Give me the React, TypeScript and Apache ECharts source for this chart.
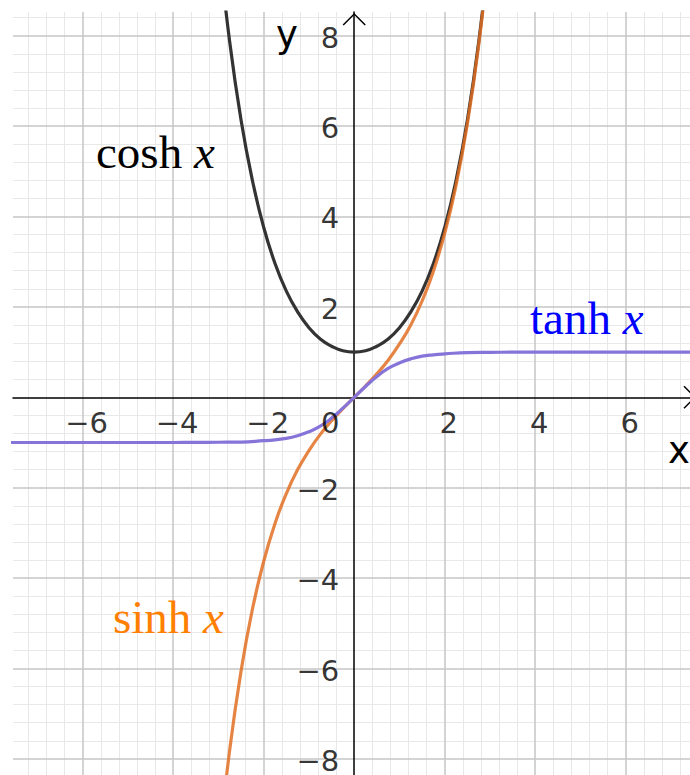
import React, { useEffect, useRef } from "react";
import * as echarts from "echarts";

// Visible window of the plane
const X_MIN = -7.54;
const X_MAX = 7.42;
const Y_MIN = -8.356;
const Y_MAX = 8.524;

// Tick labels on each axis
const xTickLabels = [-6, -4, -2, 2, 4, 6];
const yTickLabels = [-8, -6, -4, -2, 2, 4, 6, 8];

// Sample abscissas for cosh and sinh
const hypX = [
  -3, -2.75, -2.5, -2.25, -2, -1.75, -1.5, -1.25, -1, -0.75, -0.5, -0.25, 0,
  0.25, 0.5, 0.75, 1, 1.25, 1.5, 1.75, 2, 2.25, 2.5, 2.75, 3,
];
const coshValues = [
  10.07, 7.85, 6.13, 4.8, 3.76, 2.96, 2.35, 1.89, 1.54, 1.29, 1.13, 1.03, 1,
  1.03, 1.13, 1.29, 1.54, 1.89, 2.35, 2.96, 3.76, 4.8, 6.13, 7.85, 10.07,
];
const sinhValues = [
  -10.02, -7.79, -6.05, -4.69, -3.63, -2.79, -2.13, -1.6, -1.18, -0.82, -0.52,
  -0.25, 0, 0.25, 0.52, 0.82, 1.18, 1.6, 2.13, 2.79, 3.63, 4.69, 6.05, 7.79,
  10.02,
];

// Sample abscissas and values for tanh
const tanhX = [
  -7.6, -6, -5, -4, -3.5, -3, -2.5, -2, -1.75, -1.5, -1.25, -1, -0.75, -0.5,
  -0.25, 0, 0.25, 0.5, 0.75, 1, 1.25, 1.5, 1.75, 2, 2.5, 3, 3.5, 4, 5, 6, 7.6,
];
const tanhValues = [
  -1, -1, -1, -1, -0.998, -0.995, -0.99, -0.96, -0.94, -0.91, -0.85, -0.76,
  -0.64, -0.46, -0.24, 0, 0.24, 0.46, 0.64, 0.76, 0.85, 0.91, 0.94, 0.96,
  0.99, 0.995, 0.998, 1, 1, 1, 1,
];

const COSH_COLOR = "#333333";
const SINH_COLOR = "#E26E22";
const TANH_COLOR = "#8674D9";

const MINOR_STEP = 0.4;
const MINOR_PER_MAJOR = 5;

function gridValues(min: number, max: number) {
  const major: number[] = [];
  const minor: number[] = [];
  for (
    let i = Math.ceil(min / MINOR_STEP);
    i <= Math.floor(max / MINOR_STEP);
    i++
  ) {
    if (i === 0) continue;
    const v = +(i * MINOR_STEP).toFixed(2);
    if (i % MINOR_PER_MAJOR === 0) major.push(v);
    else minor.push(v);
  }
  return { major, minor };
}

const minus = (v: number) => String(v).replace("-", "\u2212");

const TICK_FONT = "DejaVu Sans";
const LABEL_FONT = "Liberation Serif";

export default function App() {
  const ref = useRef<HTMLDivElement>(null);

  useEffect(() => {
    if (!ref.current) return;
    const chart = echarts.init(ref.current, null, { renderer: "svg" });

    const gx = gridValues(X_MIN, X_MAX);
    const gy = gridValues(Y_MIN, Y_MAX);

    const gridSeries = (
      xs: number[],
      ys: number[],
      color: string,
      width: number
    ) => ({
      type: "line",
      data: [],
      silent: true,
      z: 1,
      markLine: {
        silent: true,
        animation: false,
        z: 1,
        symbol: ["none", "none"],
        label: { show: false },
        emphasis: { disabled: true },
        lineStyle: { color, width, type: "solid" },
        data: [
          ...xs.map((v) => ({ xAxis: v })),
          ...ys.map((v) => ({ yAxis: v })),
        ],
      },
    });

    const curve = (
      name: string,
      xs: number[],
      ys: number[],
      color: string,
      opacity: number,
      z: number
    ) => ({
      name,
      type: "line",
      data: xs.map((x, i) => [x, ys[i]]),
      showSymbol: false,
      smooth: 0.5,
      clip: true,
      z,
      silent: true,
      lineStyle: { color, width: 3.2, opacity },
    });

    const tickText = {
      fontFamily: TICK_FONT,
      fontSize: 29,
      lineHeight: 20,
      color: "#000000",
      textBorderWidth: 0,
      textBorderColor: "transparent",
    };

    // Numbers along the axes, placed at their values on the axis lines
    const tickSeries = (
      data: number[][],
      align: string,
      offset: number[],
      fmt: (p: any) => string
    ) => ({
      type: "scatter",
      data,
      symbolSize: 0,
      silent: true,
      z: 6,
      clip: false,
      label: {
        show: true,
        position: "inside",
        align,
        verticalAlign: "middle",
        offset,
        formatter: fmt,
        ...tickText,
      },
    });

    chart.setOption({
      animation: false,
      backgroundColor: "#ffffff",
      grid: {
        left: 13,
        top: 12,
        right: 0,
        bottom: 0,
        containLabel: false,
        outerBoundsMode: "none",
      },
      xAxis: {
        type: "value",
        min: X_MIN,
        max: X_MAX,
        z: 2,
        axisLine: { onZero: true, lineStyle: { color: "#000", width: 1.5 } },
        axisTick: { show: false },
        splitLine: { show: false },
        axisLabel: { show: false },
      },
      yAxis: {
        type: "value",
        min: Y_MIN,
        max: Y_MAX,
        z: 2,
        axisLine: { onZero: true, lineStyle: { color: "#000", width: 1.5 } },
        axisTick: { show: false },
        splitLine: { show: false },
        axisLabel: { show: false },
      },
      series: [
        gridSeries(gx.minor, gy.minor, "#e8e8e8", 1),
        gridSeries(gx.major, gy.major, "#c6c6c6", 1.5),
        curve("cosh", hypX, coshValues, COSH_COLOR, 1, 3),
        curve("sinh", hypX, sinhValues, SINH_COLOR, 0.85, 4),
        curve("tanh", tanhX, tanhValues, TANH_COLOR, 1, 5),
        tickSeries(
          xTickLabels.map((v) => [v, 0]),
          "center",
          [4, 26],
          (p: any) => minus(p.value[0])
        ),
        tickSeries(
          yTickLabels.map((v) => [0, v]),
          "right",
          [-15, 2],
          (p: any) => minus(p.value[1])
        ),
        tickSeries([[0, 0]], "center", [-24, 26], () => "0"),
      ],
    });

    const top = chart.convertToPixel({ gridIndex: 0 }, [0, Y_MAX]) as number[];
    const right = chart.convertToPixel({ gridIndex: 0 }, [X_MAX, 0]) as number[];
    const arm = 11;
    const yTip = [top[0], top[1] + 2];
    const xTip = [right[0] + 5, right[1]];

    const fnLabel = (
      id: string,
      name: string,
      color: string,
      x: number,
      y: number
    ) => ({
      id,
      type: "text",
      x,
      y,
      z: 10,
      style: {
        text: `{n|${name} }{i|x}`,
        fill: color,
        verticalAlign: "middle",
        rich: {
          n: { fontFamily: LABEL_FONT, fontSize: 47, fill: color },
          i: {
            fontFamily: LABEL_FONT,
            fontSize: 47,
            fontStyle: "italic",
            fill: color,
          },
        },
      },
    });

    chart.setOption({
      graphic: [
        {
          id: "yArrow",
          type: "polyline",
          z: 10,
          shape: {
            points: [
              [yTip[0] - arm, yTip[1] + arm],
              yTip,
              [yTip[0] + arm, yTip[1] + arm],
            ],
          },
          style: { stroke: "#000", lineWidth: 1.5, fill: "none" },
        },
        {
          id: "xArrow",
          type: "polyline",
          z: 10,
          shape: {
            points: [
              [xTip[0] - arm, xTip[1] - arm],
              xTip,
              [xTip[0] - arm, xTip[1] + arm],
            ],
          },
          style: { stroke: "#000", lineWidth: 1.5, fill: "none" },
        },
        {
          id: "yName",
          type: "text",
          x: 276,
          y: 34,
          z: 10,
          style: {
            text: "y",
            fontFamily: TICK_FONT,
            fontSize: 37,
            fill: "#000",
            verticalAlign: "middle",
          },
        },
        {
          id: "xName",
          type: "text",
          x: 668,
          y: 450,
          z: 10,
          style: {
            text: "x",
            fontFamily: TICK_FONT,
            fontSize: 37,
            fill: "#000",
            verticalAlign: "middle",
          },
        },
        fnLabel("coshLabel", "cosh", "#000000", 96, 152),
        fnLabel("tanhLabel", "tanh", "#0000ff", 530, 318),
        fnLabel("sinhLabel", "sinh", "#ff8000", 113, 617),
      ],
    });

    return () => chart.dispose();
  }, []);

  return (
    <div
      ref={ref}
      style={{
        position: "absolute",
        left: 0,
        top: 0,
        width: 690,
        height: 775,
        background: "#ffffff",
      }}
    />
  );
}
